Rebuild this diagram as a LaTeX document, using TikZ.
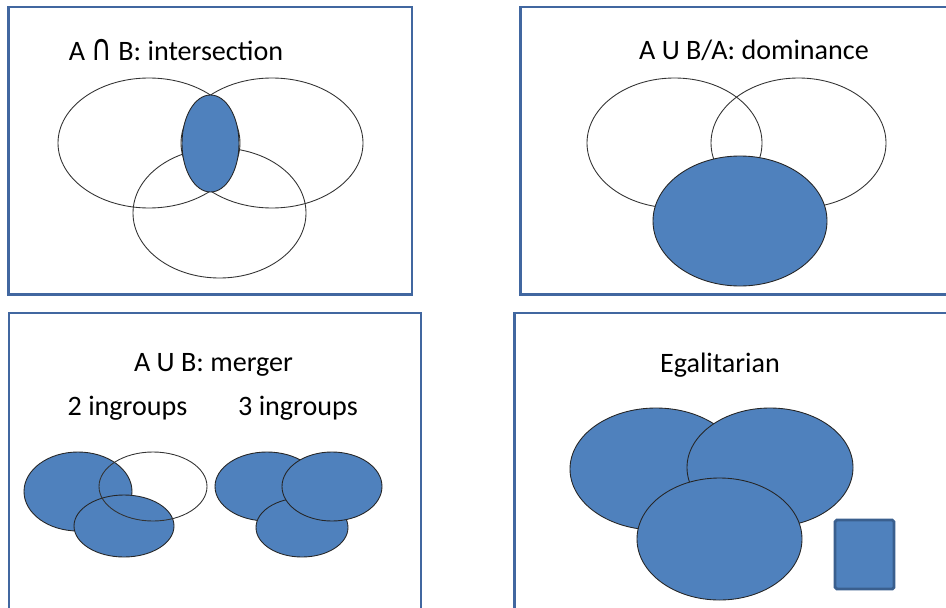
\documentclass[tikz,border=0pt]{standalone}
\usepackage{fontspec}
\setmainfont{Carlito}
\newfontfamily\symfont{DejaVu Sans}
\usepackage{graphicx}
\usepackage{tikz}
\usetikzlibrary{positioning}

\definecolor{framecol}{HTML}{4167A0}
\definecolor{setblue}{HTML}{4F81BD}
\definecolor{edgeblue}{HTML}{3A5F8E}

\tikzset{
    panel/.style={draw=framecol, line width=1.7pt, fill=white},
    outline/.style={draw=black!80, line width=0.5pt},
    filled/.style={draw=black!85, line width=0.5pt, fill=setblue},
    heading/.style={font=\fontsize{16}{19}\selectfont, inner sep=0pt}
}

\begin{document}
\begin{tikzpicture}[x=0.02cm, y=-0.02cm]

\useasboundingbox (0,0) rectangle (946,608);
\clip (0,0) rectangle (946,608);

% Panels
\draw[panel] (8.5,7) rectangle (412,294.5);
\draw[panel] (520,7) rectangle (960,294.5);
\draw[panel] (9,313) rectangle (421,620);
\draw[panel] (514,313) rectangle (960,620);

% Intersection
\node[heading] (titleAB) at (176,50)
    {A \scalebox{1}[1.3]{\symfont ∩} B: intersection};
\draw[outline] (149,143) ellipse [x radius=91, y radius=65];
\draw[outline] (272,143) ellipse [x radius=91, y radius=65];
\draw[outline] (219.5,213) ellipse [x radius=86.5, y radius=65];
\draw[filled] (210.5,143.5) ellipse [x radius=28.5, y radius=48.5];

% Dominance
\node[heading] (titleDom) at (754,50) {A U B/A: dominance};
\draw[outline] (674.5,143) ellipse [x radius=87.5, y radius=65];
\draw[outline] (798.5,143) ellipse [x radius=87.5, y radius=65];
\draw[filled] (740,221) ellipse [x radius=87, y radius=65];

% Merger
\node[heading] (titleMerge) at (213.5,365) {A U B: merger};
\node[heading] (twoGroups) at (127.5,408) {2 ingroups};
\node[heading] (threeGroups) at (298,408) {3 ingroups};

% 2 ingroups
\draw[filled] (78,491.5) ellipse [x radius=54, y radius=39.5];
\draw[filled] (124,526) ellipse [x radius=50, y radius=31];
\draw[outline] (153,486.5) ellipse [x radius=54, y radius=34.5];

% 3 ingroups
\draw[filled] (267,486.5) ellipse [x radius=52, y radius=34.5];
\draw[filled] (302,527.5) ellipse [x radius=46, y radius=29.5];
\draw[filled] (332,486.5) ellipse [x radius=50, y radius=34.5];

% Egalitarian
\node[heading] (titleEgal) at (720,365) {Egalitarian};
\draw[filled] (656,469) ellipse [x radius=86, y radius=61];
\draw[filled] (770,467.5) ellipse [x radius=83, y radius=59.5];
\draw[filled] (719.5,539) ellipse [x radius=82.5, y radius=61];
\draw[draw=edgeblue, line width=1.6pt, fill=setblue, rounded corners=1pt]
    (835,520) rectangle (894,589);

\end{tikzpicture}
\end{document}
